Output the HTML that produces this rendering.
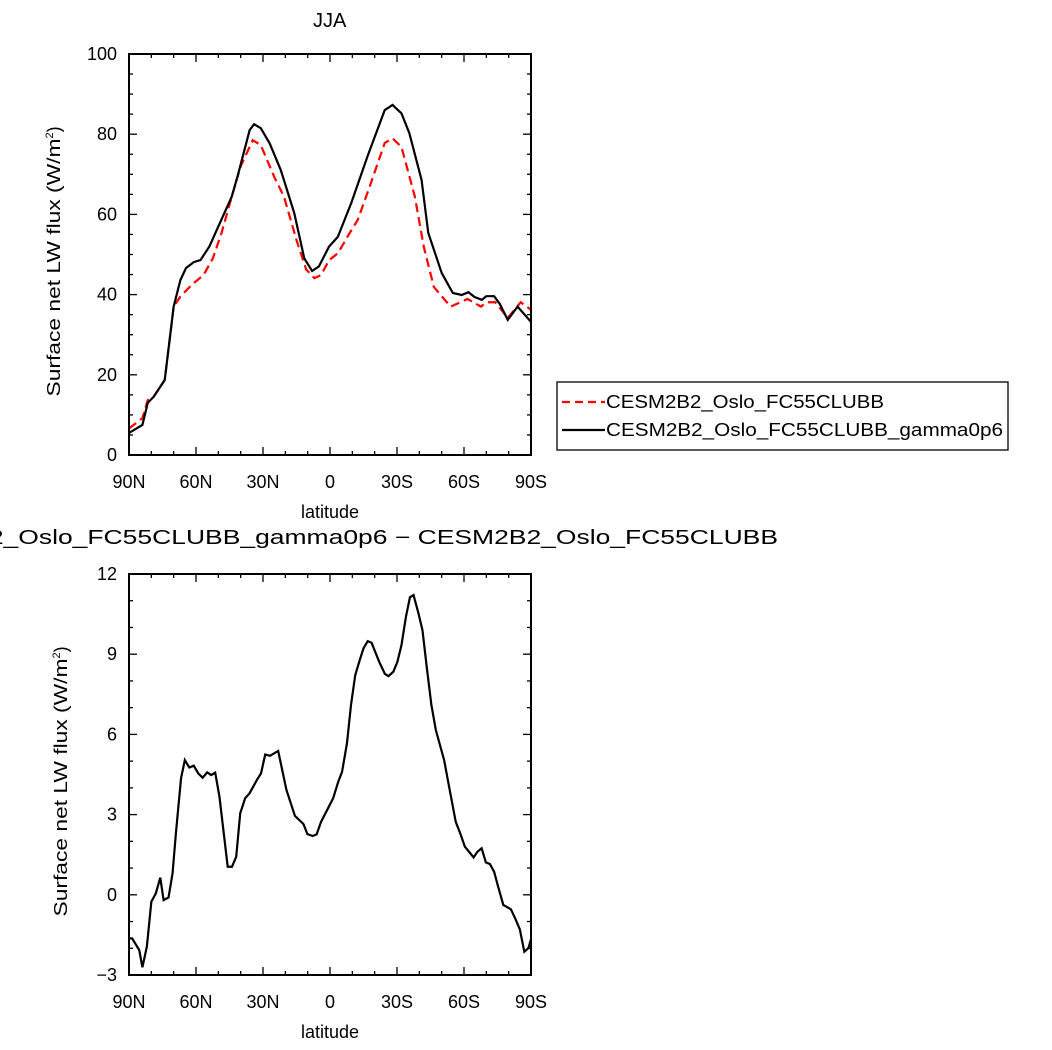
<!DOCTYPE html>
<html><head><meta charset="utf-8"><style>
body{margin:0;background:#fff;}
svg{display:block;font-family:"Liberation Sans",sans-serif;}
</style></head><body>
<svg id="chart" width="1052" height="1050" viewBox="0 0 1052 1050" xmlns="http://www.w3.org/2000/svg"></svg>
<script>
// ---- data ----
const topLatBlack=[90,84,81.6,79,74,70,67,64.5,61,58,54,50,44,41,36,34,31,27,22,16,11.5,8,5,0.4,-3.5,-9.5,-17,-24.5,-28,-32,-35.5,-41,-44,-50,-55,-59,-62,-64.7,-68,-70,-73.5,-76,-79.6,-84,-90];
const topValBlack=[5.5,7.5,13,14.5,18.7,37,43.6,46.6,48.1,48.6,52,57,64.4,70.3,81,82.5,81.5,77.7,71,60.3,49,45.9,47,52,54.4,62.8,74.8,86,87.3,85.2,80.3,68.6,55.4,45.4,40.4,39.9,40.6,39.4,38.7,39.6,39.6,37.7,33.7,37,33.2];
const topLatRed=[90,84,81.6,79,74,70,67,62,56.6,52.5,48.6,44,40,34.6,31,25,20.6,15,10.7,7,4,0.4,-3.5,-9.5,-12.4,-18.3,-24.5,-28,-32,-38,-42,-46.5,-54,-61.6,-67.6,-70,-74,-79.6,-85.4,-90];
const topValRed=[6.6,9.2,13.7,14.5,18.7,37,39.5,42.4,44.9,49,55.3,64.4,72,78.5,77.3,69.4,64.4,53.6,46.3,44.1,44.9,48.6,50.3,56,58.6,67.8,77.8,79,76.8,64.4,51.9,41.9,37,38.9,37,38.1,38.1,34.2,38.1,36.2];
const diffLat=[90,88.6,85.4,84,82,80,78,76,74.5,72.3,70.5,69,66.7,65,63,61,59,57,55,53.2,51.4,49.5,45.8,43.9,42,40.2,38,36,32.7,30.9,29,26.9,23.2,19.5,15.7,11.9,10.1,7.8,6,4,-1.4,-3.7,-5.4,-7.6,-9.4,-11.3,-13.1,-15,-16.9,-18.6,-22,-24.6,-26.2,-28.4,-30.2,-32,-34,-35.8,-37.4,-39.6,-41.4,-43.3,-45.4,-47.4,-51.1,-52.9,-56.3,-58.3,-60.4,-64.3,-66,-67.9,-69.8,-71.6,-73.5,-75.3,-77.6,-81,-82.9,-85,-87,-88.8,-90];
const diffVal=[-1.63,-1.63,-2.07,-2.71,-1.94,-0.26,0.05,0.64,-0.2,-0.1,0.8,2.3,4.36,5.04,4.76,4.83,4.54,4.38,4.58,4.48,4.57,3.67,1.05,1.05,1.42,3.05,3.61,3.8,4.3,4.54,5.25,5.2,5.38,3.92,2.95,2.65,2.27,2.2,2.26,2.73,3.61,4.23,4.6,5.67,7.1,8.22,8.72,9.22,9.49,9.43,8.72,8.26,8.18,8.35,8.72,9.34,10.4,11.13,11.21,10.53,9.9,8.53,7.1,6.16,5.04,4.23,2.73,2.3,1.8,1.4,1.61,1.74,1.21,1.15,0.86,0.3,-0.38,-0.54,-0.88,-1.29,-2.13,-2.0,-1.67];
const xTickVals=[90,60,30,0,-30,-60,-90];
const xTickLabels=["90N","60N","30N","0","30S","60S","90S"];
const topYTicks=[0,20,40,60,80,100];
const diffYTicks=[-3,0,3,6,9,12];
const seriesNames=["CESM2B2_Oslo_FC55CLUBB","CESM2B2_Oslo_FC55CLUBB_gamma0p6"];

const NS="http://www.w3.org/2000/svg";
const svg=document.getElementById('chart');
function mk(tag,attrs,parent){const e=document.createElementNS(NS,tag);for(const k in attrs)e.setAttribute(k,attrs[k]);(parent||svg).appendChild(e);return e;}
const X0=129,X1=531;
const xs=lat=>X0+(90-lat)/180*(X1-X0);

function panel(name,yT,yB,ymin,ymax,yticks,minorStep,title,titleY,titleX,titleLen){
  const ys=v=>yB-(v-ymin)/(ymax-ymin)*(yB-yT);
  const g=mk('g',{});
  
  
  for(let l=90;l>=-90;l-=10){
    const major=l%30===0, len=major?8:4, x=xs(l);
    const t1=mk('line',{x1:x,x2:x,y1:yB,y2:yB-len,stroke:'#000','stroke-width':1.3},g);
    
    
    const t2=mk('line',{x1:x,x2:x,y1:yT,y2:yT+len,stroke:'#000','stroke-width':1.3},g);
    
    
  }
  for(let v=ymin;v<=ymax+1e-9;v+=minorStep){
    const major=yticks.some(t=>Math.abs(t-v)<1e-9), len=major?8:4, y=ys(v);
    const t1=mk('line',{x1:X0,x2:X0+len,y1:y,y2:y,stroke:'#000','stroke-width':1.3},g);
    
    
    const t2=mk('line',{x1:X1,x2:X1-len,y1:y,y2:y,stroke:'#000','stroke-width':1.3},g);
    
    
  }
  xTickVals.forEach((l,i)=>{
    const t=mk('text',{x:xs(l),y:yB+33,'text-anchor':'middle','font-size':18},g);
    
    
    t.textContent=xTickLabels[i];
  });
  yticks.forEach(v=>{
    const t=mk('text',{x:X0-12,y:ys(v)+6,'text-anchor':'end','font-size':18},g);
    
    
    t.textContent=(v<0?'\u2212'+(-v):String(v));
  });
  const xl=mk('text',{x:330,y:yB+63,'text-anchor':'middle','font-size':18},g);
  
  
  xl.textContent='latitude';
  const cy=(yT+yB)/2, cx=name==='top'?60:67;
  const yl=mk('text',{x:cx-142,y:cy,'font-size':18,transform:`rotate(-90 ${cx} ${cy})`},g);
  
  
  yl.innerHTML='<tspan textLength="258" lengthAdjust="spacingAndGlyphs">Surface net LW flux (W/m</tspan><tspan dy="-7" font-size="11">2</tspan><tspan dy="7">)</tspan>';
  const tt=mk('text',{x:titleX,y:titleY,'font-size':20},g);
  
  
  if(titleLen){tt.setAttribute('textLength',titleLen);tt.setAttribute('lengthAdjust','spacingAndGlyphs');}
  tt.textContent=title;
  return {g,ys};
}

const topPanel=panel('top',54,455,0,100,topYTicks,5,'JJA',27,313,0);
const ptsR=topLatRed.map((l,i)=>xs(l)+','+topPanel.ys(topValRed[i])).join(' ');
const lr=mk('polyline',{points:ptsR,fill:'none',stroke:'#f00','stroke-width':2.2,'stroke-dasharray':'9,5'},topPanel.g);


const ptsB=topLatBlack.map((l,i)=>xs(l)+','+topPanel.ys(topValBlack[i])).join(' ');
const lb=mk('polyline',{points:ptsB,fill:'none',stroke:'#000','stroke-width':2.2},topPanel.g);


const f1=mk('rect',{x:X0,y:54,width:X1-X0,height:401,fill:'none',stroke:'#000','stroke-width':2},topPanel.g);



const botPanel=panel('diff',574,975,-3,12,diffYTicks,1,'CESM2B2_Oslo_FC55CLUBB_gamma0p6 \u2212 CESM2B2_Oslo_FC55CLUBB',544,-120,898);
const ptsD=diffLat.map((l,i)=>xs(l)+','+botPanel.ys(diffVal[i])).join(' ');
const ld=mk('polyline',{points:ptsD,fill:'none',stroke:'#000','stroke-width':2.2},botPanel.g);


const f2=mk('rect',{x:X0,y:574,width:X1-X0,height:401,fill:'none',stroke:'#000','stroke-width':2},botPanel.g);



const lg=mk('g',{});


const lbx=mk('rect',{x:557,y:382,width:451,height:68,fill:'#fff',stroke:'#000','stroke-width':1.3},lg);


const legLens=[278,397];
[['#f00','8,5',402],['#000','none',430]].forEach((s,i)=>{
  const l=mk('line',{x1:562,x2:605,y1:s[2],y2:s[2],stroke:s[0],'stroke-width':2.2,'stroke-dasharray':s[1]},lg);
  
  
  const t=mk('text',{x:606,y:s[2]+6,'font-size':18,textLength:legLens[i],lengthAdjust:'spacingAndGlyphs'},lg);
  
  
  t.textContent=seriesNames[i];
});
</script>
</body></html>
